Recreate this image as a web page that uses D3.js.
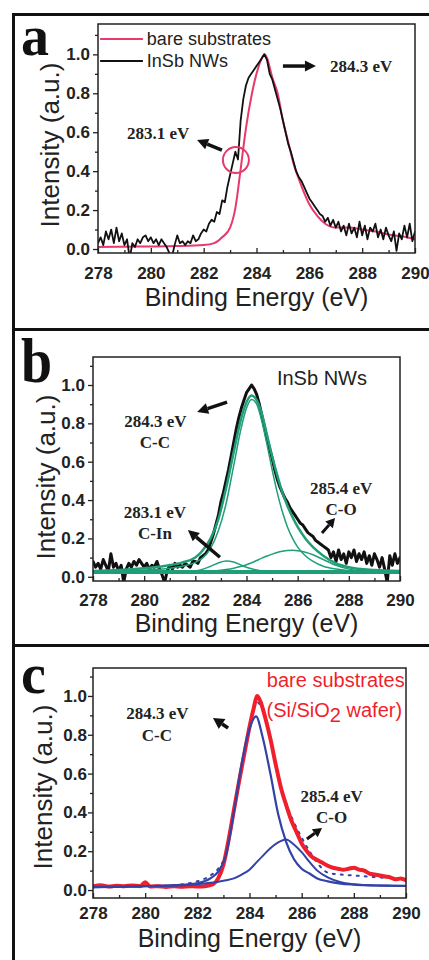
<!DOCTYPE html>
<html><head><meta charset="utf-8">
<script src="https://cdn.jsdelivr.net/npm/d3@7"></script>
<style>body{margin:0;background:#fff}svg{display:block}</style>
</head><body>
<script>
// ---------------- data ----------------
const xTickValues = [278, 280, 282, 284, 286, 288, 290];
const xMinorTicks = [279, 281, 283, 285, 287, 289];
const yTickValues = [0, 0.2, 0.4, 0.6, 0.8, 1.0];
const yMinorTicks = [0.1, 0.3, 0.5, 0.7, 0.9, 1.1];

// noisy spectra sampled every 0.1 eV from 278 eV
const sampleStart = 278, sampleStep = 0.1;

// Panel a: InSb NWs (black)
const aInSb = [0.03,0.06,0.02,0.09,0.05,0.10,0.03,0.11,0.04,0.08,
 0.02,0.05,-0.05,0.03,0.01,0.05,0.03,0.06,0.07,0.04,
 0.06,0.03,0.05,0.02,0.05,0.03,0.01,-0.02,-0.04,0.02,
 0.07,0.03,0.04,0.02,0.04,0.03,0.07,0.04,0.05,0.08,
 0.10,0.09,0.13,0.15,0.14,0.19,0.18,0.25,0.24,0.32,
 0.38,0.44,0.50,0.46,0.66,0.77,0.84,0.88,0.90,0.92,
 0.94,0.96,0.98,1.00,0.97,0.90,0.87,0.82,0.77,0.72,
 0.66,0.60,0.54,0.50,0.45,0.40,0.37,0.35,0.32,0.29,
 0.26,0.24,0.22,0.20,0.18,0.17,0.14,0.16,0.12,0.15,
 0.11,0.14,0.09,0.12,0.07,0.13,0.08,0.11,0.06,0.14,
 0.07,0.12,0.05,0.11,0.09,0.13,0.06,0.10,0.05,0.11,
 0.07,0.04,0.09,-0.01,0.08,0.05,0.12,0.06,0.13,0.04,0.09];
// Panel a: bare substrates (red)
const aBareE = [278,279,280,281,282,282.4,282.7,283.0,283.2,283.4,283.6,283.8,284.0,284.2,284.3,284.4,284.6,284.8,285.0,285.2,285.4,285.6,285.8,286.0,286.3,286.6,287.0,287.5,288.0,288.5,289.0,289.5,290.0];
const aBareI = [0.01,0.012,0.013,0.015,0.02,0.03,0.06,0.11,0.21,0.41,0.62,0.78,0.90,0.98,1.0,0.98,0.88,0.80,0.66,0.55,0.44,0.36,0.29,0.23,0.17,0.13,0.11,0.11,0.10,0.09,0.075,0.065,0.05];

// Panel b: InSb NWs data (black)
const bInSb = [0.08,0.05,0.07,0.04,0.09,0.06,0.03,0.12,0.05,0.07,
 0.03,0.06,-0.03,0.04,0.07,0.05,0.08,0.06,0.09,0.07,
 0.05,0.07,0.04,0.06,0.05,0.08,0.04,0.01,-0.03,0.03,
 0.06,0.04,0.07,0.05,0.06,0.05,0.07,0.06,0.05,0.08,
 0.08,0.07,0.10,0.11,0.12,0.14,0.18,0.22,0.27,0.32,
 0.39,0.44,0.50,0.56,0.63,0.70,0.77,0.83,0.88,0.92,
 0.96,0.98,1.00,0.98,0.95,0.90,0.84,0.78,0.72,0.67,
 0.62,0.56,0.51,0.47,0.44,0.41,0.39,0.36,0.34,0.32,
 0.30,0.28,0.27,0.25,0.23,0.22,0.21,0.19,0.18,0.17,
 0.16,0.15,0.14,0.10,0.13,0.08,0.14,0.09,0.12,0.07,
 0.13,0.10,0.14,0.08,0.12,0.09,0.13,0.07,0.11,0.06,
 0.12,0.09,0.05,0.10,0.04,-0.03,0.11,0.06,0.12,0.07,0.10];
// Panel b: fits (green)
const bFitE = [278,279,280,281,281.5,282,282.3,282.6,282.9,283.2,283.5,283.8,284.0,284.2,284.4,284.6,284.8,285.0,285.2,285.4,285.6,285.8,286.0,286.3,286.6,287.0,287.5,288,289,290];
const bEnvelope = [0.03,0.035,0.045,0.06,0.075,0.10,0.14,0.20,0.30,0.46,0.65,0.83,0.91,0.945,0.92,0.85,0.74,0.63,0.53,0.44,0.37,0.31,0.26,0.20,0.155,0.11,0.07,0.05,0.035,0.03];
const bCC = [0.025,0.03,0.035,0.045,0.055,0.075,0.10,0.15,0.24,0.38,0.58,0.78,0.88,0.925,0.90,0.81,0.69,0.56,0.44,0.34,0.26,0.20,0.155,0.11,0.08,0.055,0.04,0.032,0.026,0.024];
const bCIn = [0.02,0.02,0.02,0.021,0.023,0.03,0.04,0.055,0.072,0.082,0.077,0.06,0.05,0.042,0.035,0.03,0.027,0.025,0.023,0.022,0.021,0.02,0.02,0.02,0.02,0.02,0.02,0.02,0.02,0.02];
const bCO = [0.02,0.02,0.02,0.021,0.022,0.024,0.026,0.029,0.033,0.038,0.045,0.055,0.063,0.073,0.085,0.097,0.108,0.118,0.127,0.133,0.137,0.138,0.136,0.128,0.115,0.09,0.06,0.04,0.026,0.022];
const bBaseE = [278, 290];
const bBaseI = [0.025, 0.025];

// Panel c: bare substrates (red)
const cRedE = [278,278.3,278.6,278.9,279.2,279.5,279.8,280.0,280.2,280.5,280.8,281.1,281.4,281.7,282.0,282.3,282.6,282.8,283.0,283.2,283.4,283.6,283.8,284.0,284.15,284.3,284.45,284.6,284.8,285.0,285.2,285.4,285.6,285.8,286.0,286.2,286.4,286.6,286.8,287.0,287.2,287.4,287.6,287.8,288.0,288.2,288.4,288.6,288.8,289.0,289.2,289.4,289.6,289.8,290.0];
const cRedI = [0.02,0.025,0.018,0.022,0.02,0.024,0.02,0.04,0.018,0.02,0.016,0.02,0.017,0.02,0.018,0.02,0.03,0.06,0.13,0.26,0.41,0.56,0.70,0.84,0.93,1.0,0.96,0.89,0.78,0.65,0.53,0.44,0.36,0.30,0.24,0.20,0.17,0.155,0.14,0.125,0.115,0.11,0.105,0.11,0.115,0.105,0.10,0.085,0.08,0.075,0.07,0.065,0.055,0.06,0.05];
// Panel c: fits (blue)
const cFitE = [278,279,280,281,282,282.5,282.8,283.1,283.4,283.7,284.0,284.25,284.5,284.8,285.1,285.4,285.7,286.0,286.3,286.6,287.0,287.5,288,288.5,289,289.5,290];
const cCC = [0.015,0.017,0.02,0.024,0.035,0.06,0.095,0.18,0.40,0.65,0.83,0.895,0.79,0.60,0.39,0.25,0.16,0.11,0.085,0.06,0.045,0.033,0.028,0.025,0.023,0.022,0.021];
const cCO = [0.015,0.017,0.02,0.022,0.03,0.037,0.043,0.05,0.06,0.08,0.105,0.14,0.175,0.215,0.245,0.26,0.235,0.195,0.145,0.10,0.065,0.04,0.03,0.025,0.023,0.022,0.021];
const cEnvelope = [0.015,0.017,0.02,0.025,0.045,0.075,0.11,0.19,0.40,0.64,0.85,0.97,0.93,0.77,0.59,0.45,0.35,0.27,0.20,0.14,0.09,0.08,0.075,0.07,0.065,0.06,0.055];

// ---------------- drawing ----------------
const W = 429, H = 960;
const svg = d3.select("body").append("svg").attr("width", W).attr("height", H);
const SANS = "'Liberation Sans', Arial, Helvetica, sans-serif";
const SERIF = "'Liberation Serif', 'Times New Roman', serif";
const RED_A = "#e6396c", RED_C = "#f01f2c", GREEN = "#1f9e78", BLUE = "#3342a6";

const toPts = (E, I) => E.map((e, i) => [e, I[i]]);
const sampled = arr => arr.map((v, i) => [sampleStart + i * sampleStep, v]);

// outer frames
const frame = svg.append("g").attr("stroke", "#111").attr("stroke-width", 3);
frame.append("line").attr("x1", 12).attr("x2", W).attr("y1", 14.5).attr("y2", 14.5);
frame.append("line").attr("x1", 12).attr("x2", W).attr("y1", 329.5).attr("y2", 329.5);
frame.append("line").attr("x1", 12).attr("x2", W).attr("y1", 645.5).attr("y2", 645.5);
frame.append("line").attr("x1", 13.5).attr("x2", 13.5).attr("y1", 13).attr("y2", H);

let clipId = 0;
function makePanel(cfg) {
  const x = d3.scaleLinear().domain([278, 290]).range([cfg.left, cfg.right]);
  const y = d3.scaleLinear().domain([cfg.yMin, cfg.yMax]).range([cfg.bottom, cfg.top]);
  const g = svg.append("g");
  const id = "clip" + (clipId++);
  svg.append("defs").append("clipPath").attr("id", id).append("rect")
    .attr("x", cfg.left).attr("y", cfg.top).attr("width", cfg.right - cfg.left).attr("height", cfg.bottom - cfg.top);
  const plot = g.append("g").attr("clip-path", `url(#${id})`);

  // axes
  const xAx = g.append("g").attr("transform", `translate(0,${cfg.bottom})`)
    .call(d3.axisBottom(x).tickValues(xTickValues).tickSizeInner(-5).tickSizeOuter(0).tickPadding(cfg.xPad).tickFormat(d3.format("d")));
  g.append("g").attr("transform", `translate(0,${cfg.bottom})`)
    .call(d3.axisBottom(x).tickValues(xMinorTicks).tickSizeInner(-3).tickSizeOuter(0).tickFormat(""));
  const yAx = g.append("g").attr("transform", `translate(${cfg.left},0)`)
    .call(d3.axisLeft(y).tickValues(yTickValues).tickSizeInner(5).tickSizeOuter(0).tickPadding(cfg.yPad).tickFormat(d3.format(".1f")));
  g.append("g").attr("transform", `translate(${cfg.left},0)`)
    .call(d3.axisLeft(y).tickValues(yMinorTicks).tickSizeInner(3).tickSizeOuter(0).tickFormat(""));
  g.selectAll(".domain").remove();
  g.selectAll(".tick line").attr("stroke", "#222").attr("stroke-width", 1.3);
  [xAx, yAx].forEach(a => a.selectAll("text").attr("font-family", SANS).attr("font-weight", "bold")
    .attr("font-size", 17).attr("fill", "#222"));
  g.append("rect").attr("x", cfg.left).attr("y", cfg.top)
    .attr("width", cfg.right - cfg.left).attr("height", cfg.bottom - cfg.top)
    .attr("fill", "none").attr("stroke", "#222").attr("stroke-width", 1.5);

  // axis titles
  g.append("text").attr("x", (cfg.left + cfg.right) / 2).attr("y", cfg.xTitleY)
    .attr("text-anchor", "middle").attr("dy", "0.35em").attr("font-family", SANS)
    .attr("font-size", 25).attr("fill", "#222").text("Binding Energy (eV)");
  g.append("text").attr("transform", `translate(${cfg.yTitleX},${cfg.yTitleY}) rotate(-90)`)
    .attr("text-anchor", "middle").attr("dy", "0.35em").attr("font-family", SANS)
    .attr("font-size", 25).attr("fill", "#222")
    .attr("textLength", 165).attr("lengthAdjust", "spacingAndGlyphs")
    .text("Intensity (a.u.)");

  // panel letter
  g.append("text").attr("transform", `translate(21,${cfg.letterY}) scale(1,${cfg.letterScale})`)
    .attr("font-family", SERIF).attr("font-weight", "bold").attr("font-size", 56)
    .attr("fill", "#111").text(cfg.letter);

  return { x, y, g, plot };
}

function drawLine(p, pts, color, width, curve, dash) {
  const line = d3.line().x(d => p.x(d[0])).y(d => p.y(d[1])).curve(curve || d3.curveLinear);
  p.plot.append("path").datum(pts).attr("d", line).attr("fill", "none")
    .attr("stroke", color).attr("stroke-width", width).attr("stroke-linejoin", "round")
    .attr("stroke-linecap", "round").attr("stroke-dasharray", dash || null);
}

function arrow(p, e1, v1, e2, v2, w, headLen, headW) {
  const x1 = p.x(e1), y1 = p.y(v1), x2 = p.x(e2), y2 = p.y(v2);
  const ang = Math.atan2(y2 - y1, x2 - x1);
  const bx = x2 - headLen * Math.cos(ang), by = y2 - headLen * Math.sin(ang);
  p.g.append("line").attr("x1", x1).attr("y1", y1).attr("x2", bx).attr("y2", by)
    .attr("stroke", "#111").attr("stroke-width", w);
  const nx = -Math.sin(ang) * headW, ny = Math.cos(ang) * headW;
  p.g.append("path").attr("d", `M${x2},${y2}L${bx + nx},${by + ny}L${bx - nx},${by - ny}Z`).attr("fill", "#111");
}

function serifLabel(p, e, v, txt, anchor) {
  p.g.append("text").attr("x", p.x(e)).attr("y", p.y(v)).attr("dy", "0.35em")
    .attr("text-anchor", anchor || "middle").attr("font-family", SERIF).attr("font-weight", "bold")
    .attr("font-size", 17).attr("fill", "#222").text(txt);
}

// ---------- panel a ----------
const pa = makePanel({ left: 98, right: 415, top: 24, bottom: 253, yMin: -0.0205, yMax: 1.156,
  xPad: 14, yPad: 3, xTitleY: 297, yTitleX: 50, yTitleY: 145,
  letter: "a", letterY: 55, letterScale: 1.0 });
drawLine(pa, toPts(aBareE, aBareI), RED_A, 2, d3.curveMonotoneX);
drawLine(pa, sampled(aInSb), "#111", 1.8);
// legend
pa.g.append("line").attr("x1", pa.x(278.08)).attr("x2", pa.x(279.7)).attr("y1", pa.y(1.079)).attr("y2", pa.y(1.079))
  .attr("stroke", RED_A).attr("stroke-width", 2);
pa.g.append("line").attr("x1", pa.x(278.08)).attr("x2", pa.x(279.7)).attr("y1", pa.y(0.966)).attr("y2", pa.y(0.966))
  .attr("stroke", "#111").attr("stroke-width", 2);
pa.g.append("text").attr("x", pa.x(279.85)).attr("y", pa.y(1.079)).attr("dy", "0.35em")
  .attr("font-family", SANS).attr("font-size", 18).attr("fill", "#222").text("bare substrates");
pa.g.append("text").attr("x", pa.x(279.85)).attr("y", pa.y(0.966)).attr("dy", "0.35em")
  .attr("font-family", SANS).attr("font-size", 18).attr("fill", "#222").text("InSb NWs");
// annotations
serifLabel(pa, 286.78, 0.94, "284.3 eV", "start");
arrow(pa, 285.0, 0.94, 286.25, 0.94, 3.5, 11, 5.5);
serifLabel(pa, 279.1, 0.596, "283.1 eV", "start");
arrow(pa, 282.69, 0.508, 281.75, 0.56, 3.5, 11, 5.5);
pa.g.append("circle").attr("cx", pa.x(283.22)).attr("cy", pa.y(0.457)).attr("r", 13)
  .attr("fill", "none").attr("stroke", RED_A).attr("stroke-width", 2);

// ---------- panel b ----------
const pb = makePanel({ left: 93, right: 400, top: 357, bottom: 581, yMin: -0.022, yMax: 1.146,
  xPad: 13, yPad: 3, xTitleY: 623, yTitleX: 46, yTitleY: 477,
  letter: "b", letterY: 382, letterScale: 1.15 });
drawLine(pb, sampled(bInSb), "#111", 3);
drawLine(pb, toPts(bBaseE, bBaseI), GREEN, 4);
drawLine(pb, toPts(bFitE, bCIn), GREEN, 1.5, d3.curveMonotoneX);
drawLine(pb, toPts(bFitE, bCO), GREEN, 1.5, d3.curveMonotoneX);
drawLine(pb, toPts(bFitE, bCC), GREEN, 1.5, d3.curveMonotoneX);
drawLine(pb, toPts(bFitE, bEnvelope), GREEN, 2.5, d3.curveMonotoneX);
pb.g.append("text").attr("x", pb.x(285.19)).attr("y", pb.y(1.037)).attr("dy", "0.35em")
  .attr("font-family", SANS).attr("font-size", 20).attr("fill", "#222").text("InSb NWs");
serifLabel(pb, 280.44, 0.812, "284.3 eV");
serifLabel(pb, 280.42, 0.703, "C-C");
arrow(pb, 283.24, 0.911, 282.07, 0.859, 3.5, 11, 5.5);
serifLabel(pb, 280.42, 0.338, "283.1 eV");
serifLabel(pb, 280.42, 0.228, "C-In");
arrow(pb, 282.96, 0.102, 281.71, 0.244, 3.5, 11, 5.5);
serifLabel(pb, 287.7, 0.463, "285.4 eV");
serifLabel(pb, 287.7, 0.353, "C-O");
arrow(pb, 286.95, 0.228, 287.46, 0.306, 3, 9, 5);

// ---------- panel c ----------
const pc = makePanel({ left: 93, right: 406, top: 668, bottom: 898, yMin: -0.041, yMax: 1.144,
  xPad: 9, yPad: 1, xTitleY: 938, yTitleX: 43, yTitleY: 787,
  letter: "c", letterY: 693, letterScale: 1.0 });
drawLine(pc, toPts(cFitE, cEnvelope), BLUE, 2, d3.curveMonotoneX, "2,6");
drawLine(pc, toPts(cRedE, cRedI), RED_C, 4, d3.curveMonotoneX);
drawLine(pc, toPts(cFitE, cCO), BLUE, 2, d3.curveMonotoneX);
drawLine(pc, toPts(cFitE, cCC), BLUE, 2.2, d3.curveMonotoneX);
pc.g.append("text").attr("x", pc.x(289.95)).attr("y", pc.y(1.082)).attr("dy", "0.35em")
  .attr("text-anchor", "end").attr("font-family", SANS).attr("font-size", 20).attr("fill", RED_C)
  .text("bare substrates");
const sub = pc.g.append("text").attr("x", pc.x(289.85)).attr("y", pc.y(0.928)).attr("dy", "0.35em")
  .attr("text-anchor", "end").attr("font-family", SANS).attr("font-size", 20).attr("fill", RED_C);
sub.append("tspan").text("(Si/SiO");
sub.append("tspan").attr("dy", 5).text("2");
sub.append("tspan").attr("dy", -5).text(" wafer)");
serifLabel(pc, 280.47, 0.912, "284.3 eV");
serifLabel(pc, 280.45, 0.799, "C-C");
arrow(pc, 283.18, 0.835, 282.6, 0.887, 3.5, 11, 6);
serifLabel(pc, 287.15, 0.485, "285.4 eV");
serifLabel(pc, 287.15, 0.376, "C-O");
arrow(pc, 286.2, 0.263, 286.78, 0.32, 3, 9, 5);
</script>
</body></html>
